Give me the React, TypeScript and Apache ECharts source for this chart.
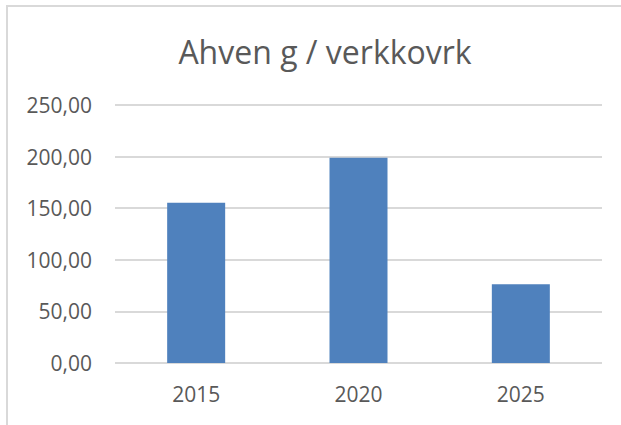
import React, { useEffect, useRef } from "react";
import * as echarts from "echarts";

const title = "Ahven g / verkkovrk";
const categories = ["2015", "2020", "2025"];
const values = [155.2, 198.9, 76.4];
const yMin = 0;
const yMax = 250;
const yInterval = 50;

export default function App() {
  const ref = useRef<HTMLDivElement>(null);
  useEffect(() => {
    if (!ref.current) return;
    const chart = echarts.init(ref.current, null, { renderer: "svg" });
    chart.setOption({
      animation: false,
      backgroundColor: "#ffffff",
      graphic: [
        {
          type: "rect",
          shape: { x: 7, y: 6, width: 700, height: 500 },
          style: { fill: "none", stroke: "#d9d9d9", lineWidth: 2 },
          silent: true,
        },
      ],
      title: {
        text: title,
        left: 320,
        textAlign: "center",
        top: 30,
        textStyle: {
          fontFamily: "Open Sans",
          fontSize: 32,
          fontWeight: "normal",
          color: "#595959",
        },
      },
      grid: { left: 115, right: 19, top: 105, bottom: 62, containLabel: false },
      xAxis: {
        type: "category",
        data: categories,
        axisLine: { show: false },
        axisTick: { show: false },
        axisLabel: {
          fontFamily: "Open Sans",
          fontSize: 21,
          color: "#595959",
          margin: 20,
        },
      },
      yAxis: {
        type: "value",
        min: yMin,
        max: yMax,
        interval: yInterval,
        axisLine: { show: false },
        axisTick: { show: false },
        splitLine: { lineStyle: { color: "#d9d9d9", width: 2 } },
        axisLabel: {
          fontFamily: "Open Sans",
          fontSize: 21,
          color: "#595959",
          margin: 23,
          formatter: (v: number) => v.toFixed(2).replace(".", ","),
        },
      },
      series: [
        {
          type: "bar",
          data: values,
          barWidth: 58,
          itemStyle: { color: "#4f81bd" },
        },
      ],
    });
    return () => chart.dispose();
  }, []);
  return (
    <div
      ref={ref}
      style={{ position: "fixed", left: 0, top: 0, width: 621, height: 425 }}
    />
  );
}
